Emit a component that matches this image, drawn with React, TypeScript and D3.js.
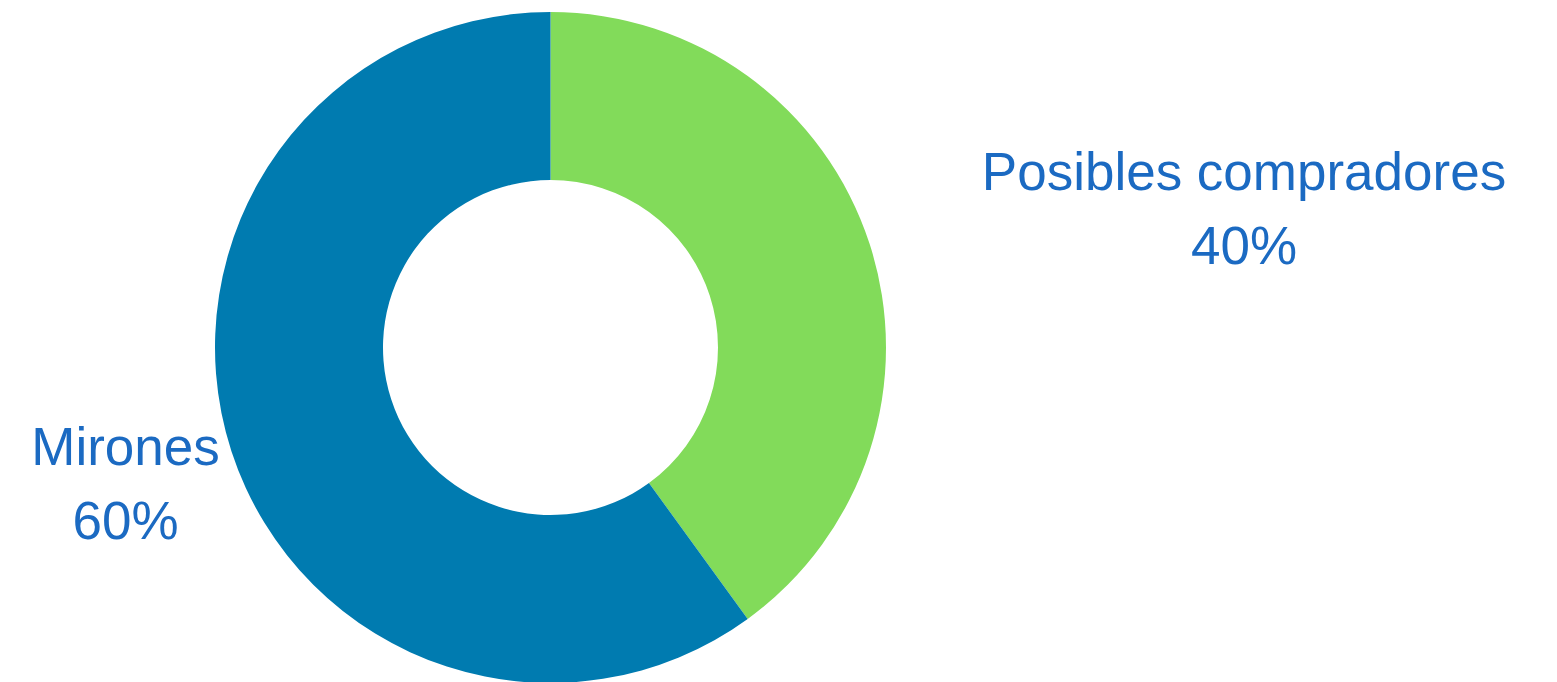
import React from "react";
import * as d3 from "d3";

const categories = ["Posibles compradores", "Mirones"];
const values = [40, 60];
const colors = ["#82DB5A", "#007BB0"];
const labelText = ["40%", "60%"];

const W = 1557;
const H = 682;

export default function App() {
  const cx = 550.5;
  const cy = 347.5;
  const outerR = 335.5;
  const innerR = 167.5;
  const pie = d3.pie<number>().sort(null).value((d) => d);
  const arcs = pie(values);
  const arc = d3.arc<d3.PieArcDatum<number>>().innerRadius(innerR).outerRadius(outerR);
  const labelPos = [
    { x: 1244, y: 189.5 },
    { x: 125.5, y: 465 },
  ];
  return (
    <svg
      width={W}
      height={H}
      style={{ position: "absolute", left: 0, top: 0, display: "block" }}
    >
      <rect width={W} height={H} fill="#ffffff" />
      <g transform={`translate(${cx},${cy})`}>
        {arcs.map((a, i) => (
          <path key={i} d={arc(a) || ""} fill={colors[i]} />
        ))}
      </g>
      {categories.map((c, i) => (
        <text
          key={c}
          x={labelPos[i].x}
          y={labelPos[i].y}
          textAnchor="middle"
          fontFamily="'Liberation Sans', Arial, sans-serif"
          fontSize={53}
          fill="#1B6AC2"
        >
          <tspan x={labelPos[i].x}>{c}</tspan>
          <tspan x={labelPos[i].x} dy={74}>
            {labelText[i]}
          </tspan>
        </text>
      ))}
    </svg>
  );
}
